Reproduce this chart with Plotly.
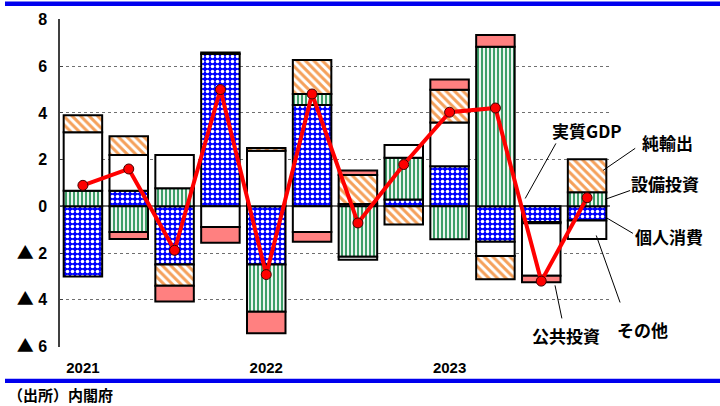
import plotly.graph_objects as go

# ---- data ----
quarters = ["2021Q1", "2021Q2", "2021Q3", "2021Q4",
            "2022Q1", "2022Q2", "2022Q3", "2022Q4",
            "2023Q1", "2023Q2", "2023Q3", "2023Q4"]
year_ticks = ["2021", "2022", "2023"]
year_tick_pos = ["2021Q1", "2022Q1", "2023Q1"]

consumption = [-3.0, 0.67, -2.49, 6.52, -2.49, 4.34, 0.10, 0.29, 1.72, -1.52, -0.67, -0.60]
capex = [0.67, -1.10, 0.78, None, -2.02, 0.47, -2.16, 1.79, -1.41, 6.83, -0.05, 0.60]
others = [2.50, 1.53, 1.42, -0.88, 2.38, -1.10, -0.12, 0.55, 1.87, -0.60, -2.25, -0.80]
net_exports = [0.73, 0.80, -0.91, 0.07, 0.12, 1.46, 1.24, -0.78, 1.40, -1.00, None, 1.42]
public_inv = [None, -0.30, -0.67, -0.68, -0.92, -0.42, 0.19, None, 0.44, 0.50, -0.28, None]
real_gdp = [0.90, 1.60, -1.88, 5.00, -2.92, 4.81, -0.71, 1.79, 4.03, 4.21, -3.20, 0.37]

y_tickvals = [8, 6, 4, 2, 0, -2, -4, -6]
y_ticklabels = ["8", "6", "4", "2", "0", "▲ 2", "▲ 4", "▲ 6"]

Y_MIN, Y_MAX = -6, 8
N = len(quarters)

def fmt_tick(s):
    if s.startswith("▲"):
        return ("<span style='font-family:Noto Sans CJK JP;font-size:17px'>▲</span> "
                + s[2:])
    return s

y_ticktext = [fmt_tick(s) for s in y_ticklabels]

fig = go.Figure()

line_style = dict(color="black", width=2)

fig.add_trace(go.Bar(
    x=quarters, y=consumption, name="個人消費",
    marker=dict(color="#0000FF", line=line_style,
                pattern=dict(shape=".", fillmode="replace", bgcolor="#0000FF",
                             fgcolor="#FFFFFF", size=5, solidity=0.4)),
))
fig.add_trace(go.Bar(
    x=quarters, y=capex, name="設備投資",
    marker=dict(color="#3E9E68", line=line_style,
                pattern=dict(shape="|", fillmode="replace", bgcolor="#FFFFFF",
                             fgcolor="#3E9E68", size=4, solidity=0.55)),
))
fig.add_trace(go.Bar(
    x=quarters, y=others, name="その他",
    marker=dict(color="#FFFFFF", line=line_style),
))
fig.add_trace(go.Bar(
    x=quarters, y=net_exports, name="純輸出",
    marker=dict(color="#F5A05A", line=line_style,
                pattern=dict(shape="\\", fillmode="replace", bgcolor="#FFFFFF",
                             fgcolor="#F5A05A", size=6, solidity=0.5)),
))
fig.add_trace(go.Bar(
    x=quarters, y=public_inv, name="公共投資",
    marker=dict(color="#FF8080", line=line_style),
))
fig.add_trace(go.Scatter(
    x=quarters, y=real_gdp, name="実質GDP", mode="lines+markers",
    line=dict(color="#FF0000", width=4),
    marker=dict(color="#FF0000", size=10, line=dict(color="#400000", width=1)),
))

# helpers: data -> paper coordinates
def xp(xd):
    return (xd + 0.5) / N

def yp(yd):
    return (yd - Y_MIN) / (Y_MAX - Y_MIN)

shapes = []
# leader lines (data coords converted to paper)
leaders = [
    (10.32, 2.69, 9.65, 0.34),    # 実質GDP
    (12.05, 2.48, 11.35, 1.54),   # 純輸出
    (11.94, 0.68, 11.39, 0.30),   # 設備投資
    (12.00, -1.15, 11.41, -0.47), # 個人消費
    (11.72, -4.10, 11.20, -1.24), # その他
    (10.45, -4.78, 10.30, -3.37), # 公共投資
]
for x0, y0, x1, y1 in leaders:
    shapes.append(dict(type="line", xref="paper", yref="paper",
                       x0=xp(x0), y0=yp(y0), x1=xp(x1), y1=yp(y1),
                       line=dict(color="black", width=1)))

# blue rules top and bottom
shapes.append(dict(type="rect", xref="paper", yref="paper",
                   x0=-0.1, x1=1.2, y0=1.040, y1=1.053,
                   fillcolor="#0000EE", line=dict(width=0), layer="above"))
shapes.append(dict(type="rect", xref="paper", yref="paper",
                   x0=-0.1, x1=1.2, y0=-0.110, y1=-0.097,
                   fillcolor="#0000EE", line=dict(width=0), layer="above"))

jp_font = dict(family="Noto Sans CJK JP", size=17, color="black", weight="bold")
labels = [
    ("実質GDP", 10.99, 3.26),
    ("純輸出", 12.76, 2.75),
    ("設備投資", 12.69, 0.98),
    ("個人消費", 12.79, -1.28),
    ("その他", 12.21, -5.27),
    ("公共投資", 10.53, -5.53),
]
annotations = []
for txt, xd, yd in labels:
    annotations.append(dict(text=txt, xref="paper", yref="paper",
                            x=xp(xd), y=yp(yd), xanchor="center", yanchor="middle",
                            showarrow=False, font=jp_font))
annotations.append(dict(text="（出所）内閣府", xref="paper", yref="paper",
                        x=-0.096, y=-0.146, xanchor="left", yanchor="middle",
                        showarrow=False, borderpad=0,
                        font=dict(family="Noto Sans CJK JP", size=15, color="black", weight="bold")))

fig.update_layout(
    width=720, height=406,
    margin=dict(l=60, r=110, t=19, b=59),
    paper_bgcolor="white", plot_bgcolor="white",
    barmode="relative", bargap=0.16,
    showlegend=False,
    shapes=shapes, annotations=annotations,
    font=dict(family="Liberation Sans", size=15, color="black"),
)
fig.update_xaxes(
    type="category", range=[-0.5, N - 0.5],
    tickmode="array", tickvals=year_tick_pos, ticktext=year_ticks,
    showgrid=False, showline=False, zeroline=False,
    ticks="", ticklabelstandoff=10,
    tickfont=dict(family="Liberation Sans", size=15, color="black", weight="bold"),
)
fig.update_yaxes(
    range=[Y_MIN - 0.02, Y_MAX + 0.02],
    tickmode="array", tickvals=y_tickvals, ticktext=y_ticktext,
    showgrid=True, gridcolor="#707070", griddash="dot", gridwidth=1,
    zeroline=True, zerolinecolor="#707070", zerolinewidth=1.5,
    showline=True, linecolor="#404040", linewidth=1.5,
    ticks="inside", ticklen=3, tickcolor="#404040", tickwidth=1,
    ticklabelstandoff=8,
    tickfont=dict(family="Liberation Sans", size=16, color="black", weight="bold"),
)

fig.write_html("out.html")
